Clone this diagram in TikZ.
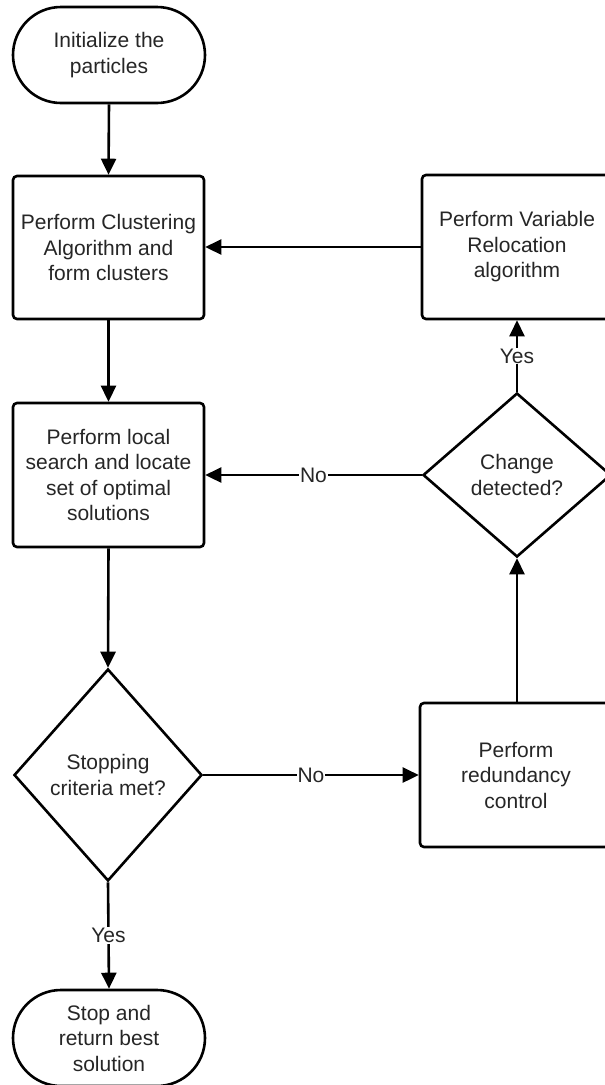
\documentclass[tikz,border=0pt]{standalone}
\usepackage{fontspec}
\setmainfont{Liberation Sans}
\usetikzlibrary{shapes.geometric,shapes.misc,arrows.meta}
\begin{document}
\begin{tikzpicture}[x=1pt,y=-1pt,
  every node/.style={font=\fontsize{21}{25.5}\selectfont, text=black!85},
  proc/.style={draw=black, line width=2.6pt, rounded corners=4pt, minimum width=191pt, minimum height=143pt, align=center, inner sep=0pt},
  term/.style={draw=black, rounded rectangle, line width=2.6pt, minimum width=192pt, minimum height=96pt, align=center, inner sep=0pt},
  dec/.style={draw=black, diamond, line width=2.6pt, align=center, inner sep=0pt},
  conn/.style={draw=black, line width=2.6pt, -{Triangle[length=16pt,width=15pt]}},
  lbl/.style={fill=white, inner sep=1pt}
]
\useasboundingbox (0,0) rectangle (605,1085);
\fill[white] (0,0) rectangle (605,1085);

\node[term] (start) at (109,55) {Initialize the\\particles};
\node[proc] (cluster) at (108.5,247.5) {Perform Clustering\\Algorithm and\\form clusters};
\node[proc, minimum width=190pt, minimum height=144pt] (reloc) at (517,247) {Perform Variable\\Relocation\\algorithm};
\node[proc, minimum height=144pt] (local) at (108.5,475) {Perform local\\search and locate\\set of optimal\\solutions};
\node[dec, minimum width=188pt, minimum height=164pt] (change) at (517,475) {Change\\detected?};
\node[dec, minimum width=188pt, minimum height=212pt] (stopq) at (108,775) {Stopping\\criteria met?};
\node[proc, minimum width=192pt, minimum height=144pt] (redund) at (516,775) {Perform\\redundancy\\control};
\node[term] (stop) at (109,1038) {Stop and\\return best\\solution};

\draw[conn] (start.south) -- (cluster.north);
\draw[conn] (reloc.west) -- (reloc.west -| cluster.east);
\draw[conn] (cluster.south) -- (local.north);
\draw[conn] (change.west) -- node[lbl] {No} (change.west -| local.east);
\draw[conn] (change.north) -- node[lbl] {Yes} (reloc.south);
\draw[conn] (local.south) -- (stopq.north);
\draw[conn] (stopq.east) -- node[lbl] {No} (stopq.east -| redund.west);
\draw[conn] (redund.north -| change.south) -- (change.south);
\draw[conn] (stopq.south) -- node[lbl] {Yes} (stop.north);
\end{tikzpicture}
\end{document}
